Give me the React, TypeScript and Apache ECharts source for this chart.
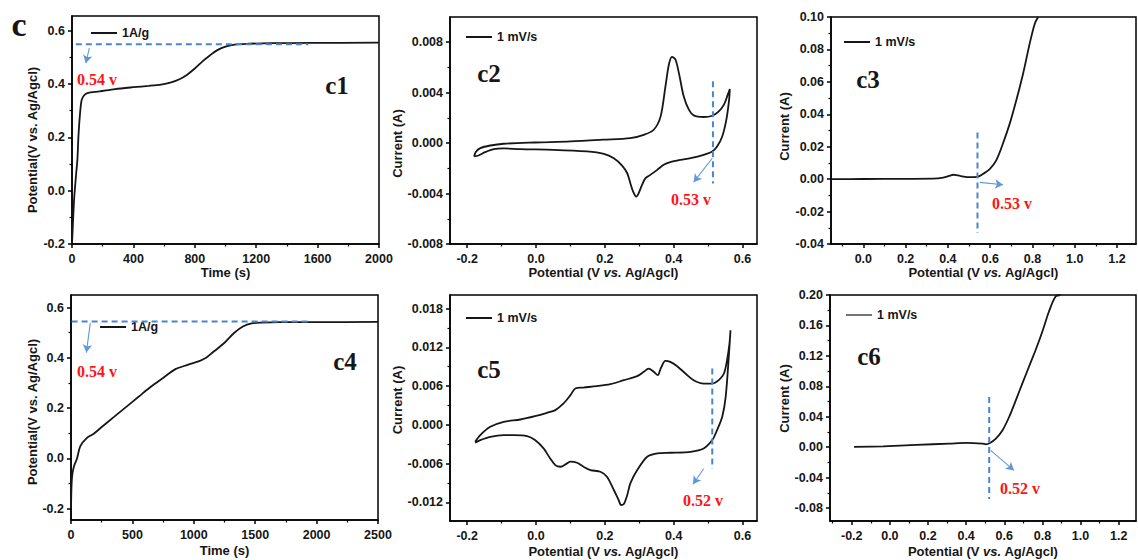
import { useEffect, useRef } from "react";
import * as echarts from "echarts";

// ---------- data ----------
const c1Time = [0, 4, 9, 14, 20, 28, 35, 43, 54, 63, 78, 100, 180, 280, 400, 500, 580, 640, 700, 750, 800, 850, 900, 950, 1000, 1060, 1150, 1300, 1550, 2000];
const c1Potential = [-0.2, -0.15, -0.085, -0.03, 0.015, 0.07, 0.115, 0.215, 0.3, 0.34, 0.357, 0.366, 0.372, 0.381, 0.388, 0.393, 0.398, 0.405, 0.418, 0.435, 0.458, 0.485, 0.508, 0.528, 0.54, 0.548, 0.551, 0.553, 0.554, 0.555];

const c2Potential = [-0.18, -0.175, -0.162, -0.133, -0.094, -0.003, 0.1, 0.197, 0.274, 0.313, 0.342, 0.362, 0.376, 0.386, 0.395, 0.405, 0.415, 0.429, 0.444, 0.458, 0.487, 0.512, 0.531, 0.546, 0.557, 0.563, 0.561, 0.553, 0.541, 0.526, 0.512, 0.487, 0.449, 0.42, 0.39, 0.371, 0.352, 0.332, 0.318, 0.308, 0.298, 0.291, 0.282, 0.274, 0.265, 0.25, 0.226, 0.197, 0.148, 0.051, -0.046, -0.094, -0.123, -0.148, -0.167, -0.18];
const c2Current = [-0.00106, -0.0007, -0.0004, -0.00019, -0.00005, 0.00005, 0.00013, 0.00027, 0.0004, 0.00066, 0.00106, 0.00212, 0.0045, 0.00623, 0.00684, 0.00663, 0.00557, 0.00371, 0.00265, 0.0022, 0.00207, 0.00217, 0.00252, 0.00305, 0.00384, 0.00429, 0.00345, 0.00186, 0.00053, -0.00027, -0.00066, -0.00093, -0.0012, -0.00133, -0.00151, -0.00172, -0.00212, -0.00252, -0.00278, -0.00331, -0.00398, -0.00424, -0.00384, -0.00318, -0.00239, -0.00178, -0.0012, -0.00085, -0.00066, -0.00053, -0.00048, -0.00042, -0.00048, -0.00072, -0.00098, -0.00106];

const c3Potential = [-0.15, 0.0, 0.2, 0.33, 0.378, 0.41, 0.425, 0.44, 0.457, 0.504, 0.543, 0.567, 0.598, 0.63, 0.661, 0.693, 0.724, 0.756, 0.787, 0.811, 0.827];
const c3Current = [0.0, 0.0001, 0.0002, 0.0003, 0.001, 0.0022, 0.0027, 0.0025, 0.002, 0.0012, 0.0016, 0.0033, 0.0062, 0.0119, 0.0221, 0.0344, 0.0488, 0.0652, 0.0836, 0.0959, 0.1];

const c4Time = [0, 5, 12, 25, 49, 76, 130, 185, 250, 350, 450, 550, 650, 750, 850, 950, 1050, 1100, 1150, 1250, 1330, 1400, 1470, 1550, 1700, 2000, 2500];
const c4Potential = [-0.2, -0.1, -0.06, -0.03, 0.0, 0.049, 0.082, 0.098, 0.125, 0.165, 0.205, 0.245, 0.285, 0.32, 0.355, 0.372, 0.388, 0.4, 0.42, 0.46, 0.5, 0.525, 0.537, 0.54, 0.542, 0.542, 0.543];

const c5Potential = [-0.177, -0.162, -0.133, -0.094, -0.046, -0.003, 0.032, 0.056, 0.08, 0.1, 0.114, 0.138, 0.177, 0.216, 0.255, 0.294, 0.313, 0.327, 0.342, 0.354, 0.362, 0.376, 0.39, 0.41, 0.434, 0.458, 0.487, 0.512, 0.531, 0.546, 0.555, 0.562, 0.565, 0.56, 0.551, 0.541, 0.526, 0.512, 0.487, 0.449, 0.39, 0.352, 0.323, 0.294, 0.274, 0.265, 0.255, 0.247, 0.24, 0.226, 0.206, 0.187, 0.158, 0.138, 0.119, 0.1, 0.09, 0.071, 0.056, 0.041, 0.022, -0.003, -0.026, -0.065, -0.094, -0.133, -0.162, -0.177];
const c5Current = [-0.00263, -0.00159, -0.00031, 0.00046, 0.00082, 0.00134, 0.00186, 0.00227, 0.0033, 0.00459, 0.00562, 0.00577, 0.00598, 0.00629, 0.00691, 0.00753, 0.0082, 0.00871, 0.0082, 0.00768, 0.00871, 0.0099, 0.00974, 0.00907, 0.00794, 0.00691, 0.00639, 0.00639, 0.00691, 0.00794, 0.01, 0.01258, 0.01464, 0.01052, 0.00433, 0.00124, -0.00082, -0.00237, -0.00366, -0.00418, -0.00433, -0.00443, -0.00495, -0.00701, -0.00907, -0.01088, -0.01227, -0.01242, -0.01165, -0.0101, -0.00804, -0.00727, -0.00701, -0.0065, -0.00588, -0.00572, -0.00598, -0.0065, -0.00624, -0.00521, -0.00366, -0.00237, -0.00175, -0.0016, -0.0016, -0.00186, -0.00237, -0.00278];

const c6Potential = [-0.188, -0.035, 0.139, 0.313, 0.4, 0.486, 0.504, 0.525, 0.556, 0.591, 0.626, 0.661, 0.695, 0.73, 0.765, 0.8, 0.834, 0.869, 0.895];
const c6Current = [0.0003, 0.0012, 0.003, 0.0047, 0.0056, 0.0047, 0.0038, 0.0056, 0.0113, 0.0223, 0.04, 0.0619, 0.0838, 0.106, 0.128, 0.152, 0.178, 0.198, 0.2];

// onset guide lines (blue dashed) and arrows
const c1GuideX = [25, 1540], c1GuideY = [0.549, 0.549];
const c2GuideX = [0.514, 0.514], c2GuideY = [0.0049, -0.0032];
const c3GuideX = [0.54, 0.54], c3GuideY = [0.0287, -0.0332];
const c4GuideX = [5, 1935], c4GuideY = [0.545, 0.545];
const c5GuideX = [0.512, 0.512], c5GuideY = [0.0087, -0.0068];
const c6GuideX = [0.521, 0.521], c6GuideY = [0.066, -0.068];

const c1Arrow = [[113, 0.535], [90, 0.478]];
const c2Arrow = [[0.512, -0.0012], [0.458, -0.0031]];
const c3Arrow = [[0.551, -0.002], [0.661, -0.0035]];
const c4Arrow = [[157, 0.538], [125, 0.421]];
const c5Arrow = [[0.487, -0.0068], [0.456, -0.0092]];
const c6Arrow = [[0.529, -0.0041], [0.651, -0.0305]];

// ticks
const c1XTicks = [0, 400, 800, 1200, 1600, 2000];
const c1XMinor = [200, 600, 1000, 1400, 1800];
const gcdYTicks = [-0.2, 0, 0.2, 0.4, 0.6];
const gcdYMinor = [-0.1, 0.1, 0.3, 0.5];
const c4XTicks = [0, 500, 1000, 1500, 2000, 2500];
const c4XMinor = [250, 750, 1250, 1750, 2250];
const cvXTicks = [-0.2, 0, 0.2, 0.4, 0.6];
const cvXMinor = [-0.1, 0.1, 0.3, 0.5];
const c2YTicks = [-0.008, -0.004, 0, 0.004, 0.008];
const c2YMinor = [-0.006, -0.002, 0.002, 0.006];
const c3XTicks = [0, 0.2, 0.4, 0.6, 0.8, 1.0, 1.2];
const c3XMinor = [-0.1, 0.1, 0.3, 0.5, 0.7, 0.9, 1.1];
const c3YTicks = [-0.04, -0.02, 0, 0.02, 0.04, 0.06, 0.08, 0.1];
const c3YMinor = [-0.03, -0.01, 0.01, 0.03, 0.05, 0.07, 0.09];
const c5YTicks = [-0.012, -0.006, 0, 0.006, 0.012, 0.018];
const c5YMinor = [-0.009, -0.003, 0.003, 0.009, 0.015];
const c6XTicks = [-0.2, 0, 0.2, 0.4, 0.6, 0.8, 1.0, 1.2];
const c6XMinor = [-0.3, -0.1, 0.1, 0.3, 0.5, 0.7, 0.9, 1.1];
const c6YTicks = [-0.08, -0.04, 0, 0.04, 0.08, 0.12, 0.16, 0.2];
const c6YMinor = [-0.06, -0.02, 0.02, 0.06, 0.1, 0.14, 0.18];

// ---------- styling ----------
const SANS = "'Liberation Sans', Arial, Helvetica, sans-serif";
const SERIF = "'Liberation Serif', 'Times New Roman', serif";
const INK = "#161616";
const BLUE = "#4a86cf";
const ARROW = "#5f98d8";
const RED = "#ff1414";

const zip = (a: number[], b: number[]) => a.map((v, i) => [v, b[i]]);

const TIME_NAME = "Time (s)";
const POT_NAME = "Potential (V {i|vs.} Ag/Agcl)";
const GCD_Y_NAME = "Potential(V vs. Ag/Agcl)";
const CUR_NAME = "Current (A)";

type Panel = {
  grid: { left: number; top: number; width: number; height: number };
  x: [number, number]; y: [number, number];
  xt: number[]; xm: number[]; yt: number[]; ym: number[];
  xd: number; yd: number;
  xName: string; yName: string; xGap: number; yGap: number; yPad: number[];
  legendName: string;
  data: number[][]; guide: number[][]; arrow: number[][];
};

const panels: Panel[] = [
  { grid: { left: 72, top: 16, width: 307, height: 228 }, x: [0, 2000], y: [-0.2, 0.655], xt: c1XTicks, xm: c1XMinor, yt: gcdYTicks, ym: gcdYMinor, xd: 0, yd: 1, xName: TIME_NAME, yName: GCD_Y_NAME, xGap: 22, yGap: 33, yPad: [0, 20, 0, 0], legendName: "1A/g", data: zip(c1Time, c1Potential), guide: zip(c1GuideX, c1GuideY), arrow: c1Arrow },
  { grid: { left: 450, top: 17, width: 307, height: 227 }, x: [-0.25, 0.642], y: [-0.008, 0.01], xt: cvXTicks, xm: cvXMinor, yt: c2YTicks, ym: c2YMinor, xd: 1, yd: 3, xName: POT_NAME, yName: CUR_NAME, xGap: 22, yGap: 45, yPad: [0, 26, 0, 0], legendName: "1 mV/s", data: zip(c2Potential, c2Current), guide: zip(c2GuideX, c2GuideY), arrow: c2Arrow },
  { grid: { left: 831, top: 17, width: 305, height: 227 }, x: [-0.153, 1.29], y: [-0.04, 0.1], xt: c3XTicks, xm: c3XMinor, yt: c3YTicks, ym: c3YMinor, xd: 1, yd: 2, xName: POT_NAME, yName: CUR_NAME, xGap: 22, yGap: 40, yPad: [0, 0, 0, 8], legendName: "1 mV/s", data: zip(c3Potential, c3Current), guide: zip(c3GuideX, c3GuideY), arrow: c3Arrow },
  { grid: { left: 71, top: 295, width: 307, height: 225 }, x: [0, 2500], y: [-0.245, 0.65], xt: c4XTicks, xm: c4XMinor, yt: gcdYTicks, ym: gcdYMinor, xd: 0, yd: 1, xName: TIME_NAME, yName: GCD_Y_NAME, xGap: 24, yGap: 32, yPad: [0, 9, 0, 0], legendName: "1A/g", data: zip(c4Time, c4Potential), guide: zip(c4GuideX, c4GuideY), arrow: c4Arrow },
  { grid: { left: 450, top: 295, width: 307, height: 226 }, x: [-0.25, 0.642], y: [-0.0149, 0.0201], xt: cvXTicks, xm: cvXMinor, yt: c5YTicks, ym: c5YMinor, xd: 1, yd: 3, xName: POT_NAME, yName: CUR_NAME, xGap: 24, yGap: 44, yPad: [0, 0, 0, 16], legendName: "1 mV/s", data: zip(c5Potential, c5Current), guide: zip(c5GuideX, c5GuideY), arrow: c5Arrow },
  { grid: { left: 830, top: 295, width: 306, height: 226 }, x: [-0.314, 1.291], y: [-0.097, 0.2], xt: c6XTicks, xm: c6XMinor, yt: c6YTicks, ym: c6YMinor, xd: 1, yd: 2, xName: POT_NAME, yName: CUR_NAME, xGap: 24, yGap: 39, yPad: [0, 0, 0, 19], legendName: "1 mV/s", data: zip(c6Potential, c6Current), guide: zip(c6GuideX, c6GuideY), arrow: c6Arrow },
];

const legendPos = [
  { left: 91, y: 33 }, { left: 466, y: 37 }, { left: 844, y: 42 },
  { left: 100, y: 327 }, { left: 466, y: 318 }, { left: 846, y: 315 },
];

const panelLabels = [
  { text: "c1", x: 337, y: 85 }, { text: "c2", x: 489, y: 73 }, { text: "c3", x: 868, y: 79 },
  { text: "c4", x: 345, y: 361 }, { text: "c5", x: 489, y: 369 }, { text: "c6", x: 869, y: 356 },
];
const onsetLabels = [
  { text: "0.54 v", x: 97, y: 79 }, { text: "0.53 v", x: 691, y: 199 }, { text: "0.53 v", x: 1012, y: 203 },
  { text: "0.54 v", x: 97, y: 371 }, { text: "0.52 v", x: 703, y: 500 }, { text: "0.52 v", x: 1020, y: 488 },
];

const labelFont = { fontFamily: SANS, fontWeight: "bold" as const, fontSize: 12.5, color: INK };
const richItalic = { i: { fontFamily: SANS, fontWeight: "bold" as const, fontStyle: "italic" as const, fontSize: 13, color: INK } };
const axisLineStyle = { color: "#000", width: 1.5 };

function buildOption() {
  const grid: any[] = [];
  const xAxis: any[] = [];
  const yAxis: any[] = [];
  const series: any[] = [];
  const legend: any[] = [];
  panels.forEach((p, i) => {
    grid.push({ ...p.grid, show: true, borderColor: "#000", borderWidth: 1.5, backgroundColor: "transparent" });
    xAxis.push({
      type: "value", gridIndex: i, position: "bottom", min: p.x[0], max: p.x[1],
      axisLine: { show: true, onZero: false, lineStyle: axisLineStyle },
      axisTick: { show: true, length: 4, customValues: p.xt, lineStyle: axisLineStyle },
      axisLabel: { show: true, customValues: p.xt, margin: 8, showMinLabel: true, showMaxLabel: true, formatter: (v: number) => v.toFixed(p.xd), ...labelFont },
      splitLine: { show: false },
      name: p.xName, nameLocation: "middle", nameGap: p.xGap,
      nameTextStyle: { fontFamily: SANS, fontWeight: "bold", fontSize: 13, color: INK, rich: richItalic },
    });
    xAxis.push({
      type: "value", gridIndex: i, position: "bottom", min: p.x[0], max: p.x[1],
      axisLine: { show: false, onZero: false },
      axisTick: { show: true, length: 2.5, customValues: p.xm, lineStyle: { color: "#000", width: 1.2 } },
      axisLabel: { show: false }, splitLine: { show: false },
    });
    yAxis.push({
      type: "value", gridIndex: i, position: "left", min: p.y[0], max: p.y[1],
      axisLine: { show: true, onZero: false, lineStyle: axisLineStyle },
      axisTick: { show: true, length: 4, customValues: p.yt, lineStyle: axisLineStyle },
      axisLabel: { show: true, customValues: p.yt, margin: 7, showMinLabel: true, showMaxLabel: true, formatter: (v: number) => v.toFixed(p.yd), ...labelFont },
      splitLine: { show: false },
      name: p.yName, nameLocation: "middle", nameGap: p.yGap,
      nameTextStyle: { fontFamily: SANS, fontWeight: "bold", fontSize: 13, color: INK, padding: p.yPad },
    });
    yAxis.push({
      type: "value", gridIndex: i, position: "left", min: p.y[0], max: p.y[1],
      axisLine: { show: false, onZero: false },
      axisTick: { show: true, length: 2.5, customValues: p.ym, lineStyle: { color: "#000", width: 1.2 } },
      axisLabel: { show: false }, splitLine: { show: false },
    });
    series.push({
      type: "line", name: p.legendName, xAxisIndex: 2 * i, yAxisIndex: 2 * i,
      data: p.data, symbol: "none", showSymbol: false, smooth: 0.3,
      lineStyle: { color: INK, width: 1.8 }, itemStyle: { color: INK }, z: 3,
    });
    series.push({
      type: "line", name: "guide" + i, xAxisIndex: 2 * i, yAxisIndex: 2 * i,
      data: p.guide, symbol: "none", showSymbol: false,
      lineStyle: { color: BLUE, width: 2, type: [6, 4] }, z: 4,
      markLine: {
        silent: true, symbol: ["none", "arrow"], symbolSize: [7, 8],
        lineStyle: { color: ARROW, width: 1.1, type: "solid" },
        label: { show: false },
        data: [[{ coord: p.arrow[0] }, { coord: p.arrow[1] }]],
      },
    });
    const lp = legendPos[i];
    legend.push({
      show: true, data: [p.legendName], left: lp.left, top: lp.y - 7, padding: 0,
      icon: "rect", itemWidth: 26, itemHeight: i === 5 ? 1.2 : 2, itemGap: 4, selectedMode: false,
      itemStyle: { color: INK },
      textStyle: { fontFamily: SANS, fontWeight: "bold", fontSize: 12.5, color: INK, lineHeight: 14 },
    });
  });

  const graphic: any[] = [
    { type: "text", x: 19, y: 24, style: { text: "c", font: `bold 34px ${SERIF}`, fill: INK, align: "center", verticalAlign: "middle" } },
    ...panelLabels.map((l) => ({ type: "text", x: l.x, y: l.y, style: { text: l.text, font: `bold 25px ${SERIF}`, fill: INK, align: "center", verticalAlign: "middle" } })),
    ...onsetLabels.map((l) => ({ type: "text", x: l.x, y: l.y, style: { text: l.text, font: `bold 16px ${SERIF}`, fill: RED, align: "center", verticalAlign: "middle" } })),
  ];

  return { animation: false, backgroundColor: "#fff", grid, xAxis, yAxis, series, legend, graphic };
}

export default function App() {
  const ref = useRef<HTMLDivElement>(null);
  useEffect(() => {
    if (!ref.current) return;
    const chart = echarts.init(ref.current, undefined, { renderer: "svg" });
    chart.setOption(buildOption() as any);
    return () => chart.dispose();
  }, []);
  return <div ref={ref} style={{ position: "absolute", left: 0, top: 0, width: 1138, height: 560, background: "#fff" }} />;
}
